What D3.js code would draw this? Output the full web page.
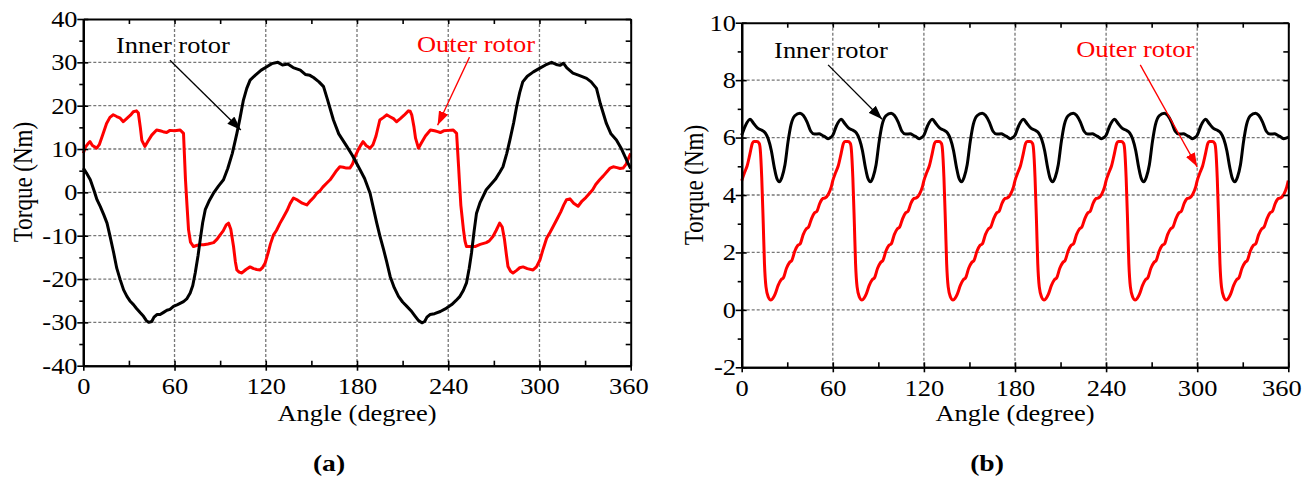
<!DOCTYPE html>
<html>
<head>
<meta charset="utf-8">
<script src="https://cdn.jsdelivr.net/npm/d3@7"></script>
<style>
  body { margin: 0; background: #fff; }
  text { font-family: "Liberation Serif", "Times New Roman", serif; }
</style>
</head>
<body>
<div id="chart"></div>
<script>

// x ticks (same for both panels)
var angleTicks = [0, 60, 120, 180, 240, 300, 360];
var angleMinor = [30, 90, 150, 210, 270, 330];

// y ticks
var torqueTicksA = [-40, -30, -20, -10, 0, 10, 20, 30, 40];
var torqueMinorA = [-35, -25, -15, -5, 5, 15, 25, 35];
var torqueTicksB = [-2, 0, 2, 4, 6, 8, 10];
var torqueMinorB = [-1, 1, 3, 5, 7, 9];

// (a) inner rotor, [angle, torque]
var innerA = [[0,5.6],[2,4.5],[4.6,2.9],[7,0.5],[9,-1.7],[11.2,-3.3],[13.5,-5.2],[15.6,-7.1],[17.5,-10],[20,-14],
  [22,-17.5],[24.3,-20.2],[26.5,-22.5],[28.7,-24],[31,-25.2],[33,-25.9],[35,-26.8],[37.5,-27.8],[39.6,-28.6],[41.5,-29.6],
  [43,-30],[45,-29.8],[46.5,-28.8],[48.4,-28.2],[50.5,-28.2],[52.8,-27.7],[55,-27.2],[57,-27],[59.3,-26.3],[62,-25.9],
  [65.9,-25.2],[68,-24.6],[70.3,-23.2],[72,-21.5],[73.6,-18.6],[75.5,-14.5],[76.9,-10.9],[78.5,-7],[80.2,-4],[83,-1.8],
  [85.6,-0.2],[89,1.5],[92.2,2.9],[95,5.5],[98,9],[101,13.6],[103,17],[105.3,21.3],[107.5,24],[109.7,25.9],
  [113,27],[117,28.2],[120.7,29],[124,29.7],[128,30],[131,29.4],[134.5,29.6],[138,28.8],[142.7,28.2],[146,27.2],
  [149,27],[151.4,26.5],[155,25.5],[158,24.4],[160.5,21.5],[164.5,16.7],[168,13.5],[173.3,10.6],[177,8.5],[182,5.2],
  [185,3.2],[188.6,-0.2],[191,-4],[193,-7.1],[195,-10],[197.5,-13.2],[199.5,-16],[201.8,-19.4],[204.5,-22],[207.3,-24],
  [210,-25.3],[212.8,-26.3],[215.5,-27.3],[218.3,-28.6],[220.5,-29.6],[222.7,-30.1],[224.5,-29.8],[226,-28.8],[228,-28.2],[231,-28],
  [234.8,-27.5],[238,-26.9],[242.3,-25.9],[245,-25],[247.7,-24],[250,-22.6],[252,-20.9],[253.8,-17.5],[255.3,-14],[257,-9],
  [258.6,-4.8],[261,-2.3],[265,0.6],[268,1.8],[271,3],[274,4.7],[276,5.9],[278.5,9],[280.5,12],[283,16],
  [285,19.8],[287,23],[289,25.5],[292,26.8],[296,27.8],[300,28.6],[304,29.4],[308,30],[311,29.5],[313.5,29.3],
  [315.7,29.8],[318,28.7],[322,27.5],[326,27],[331,26.3],[334,25.5],[337.5,24],[340,20.5],[344,15.9],[347,13.5],
  [350.6,12.1],[354,10],[358.3,6.7],[360,5.5]];

// (a) outer rotor
var outerA = [[0,9],[1.5,10.5],[3,11.2],[4.4,11.7],[6,10.8],[8.8,10.2],[10.5,11],[12.5,13],[15.3,15.9],[17.5,17.3],
  [19.7,17.9],[22,17.5],[24,17.2],[26.3,16.3],[28.5,17],[31,17.8],[32.9,18.6],[35,18.8],[36.2,18.3],[37.5,15],
  [38.5,12],[40.5,10.6],[42.5,11.8],[45,13.2],[48.2,14.4],[50.5,14.2],[52.5,14],[54.8,13.8],[57,14.3],[60,14.2],
  [63.7,14.4],[65.9,13.6],[67.2,2.9],[68.2,-3],[69.2,-8.6],[70.5,-11.5],[72.5,-12.5],[75,-12.2],[77,-12.1],[79.1,-12.1],
  [82,-11.9],[85.7,-11.6],[88,-10.8],[90,-9.8],[92,-8.9],[94,-7.5],[95.5,-7.1],[97,-8.5],[98.8,-12.5],[100,-16],
  [101,-17.9],[102.5,-18.4],[104.3,-18.6],[107,-17.8],[109.7,-17.2],[112,-17.6],[114,-17.8],[116.3,-17.9],[118,-17.3],[119.6,-16.3],
  [121.5,-14],[123,-12],[125.1,-9.8],[127,-8.8],[129.4,-7.1],[131.5,-5.8],[134,-4.2],[136,-2.6],[138.2,-1.3],[141,-1.8],
  [144,-2.5],[147,-2.9],[149.5,-1.9],[151.5,-1.2],[153.6,-0.2],[155.5,0.3],[157.5,1.2],[160,2.1],[162.3,2.9],[164.5,4],
  [166.5,5],[168.7,5.9],[171,5.8],[173,5.6],[175.3,5.6],[177,6.5],[179,8.5],[181,10],[182,10.6],[184,11.7],
  [186,10.8],[188.6,10.2],[190.5,11],[192.5,13],[195,16.7],[197.5,17.3],[199.5,17.9],[202,17.4],[204,17],[206,16.3],
  [208.5,17],[211,17.8],[213.8,18.8],[215,18.7],[216,17.9],[217.5,15],[218.5,12.5],[220.4,10.2],[222.5,11.5],[225,13],
  [228.3,14.4],[231,14.2],[233,14],[234.8,13.8],[237,14.2],[240,14.3],[243.3,14.4],[245.5,13.6],[246.8,6],[247.3,2.9],
  [248.3,-3],[250,-8.6],[251,-11.2],[252,-12.5],[255,-12.5],[257.6,-12.5],[261,-12],[265,-11.6],[267,-11.2],[269.4,-10.2],
  [271.5,-8.8],[273.8,-7.1],[275.5,-8],[277,-10.9],[278.3,-14.5],[279.3,-17.1],[281,-18.2],[282.6,-18.6],[285,-18],[287,-17.4],
  [289.2,-17.2],[292,-17.6],[295.8,-17.9],[298,-17.2],[300.3,-15.6],[302.5,-13],[304.7,-10.6],[307,-9.2],[309,-7.9],[311.5,-6.2],
  [314,-4.5],[316,-2.9],[317.8,-1.7],[320,-1.5],[322.5,-2.5],[325.4,-3.2],[328,-2],[330.5,-1.2],[333,-0.2],[335,0.6],
  [337,1.8],[339.6,2.9],[342,3.8],[344.5,4.8],[346.5,5.6],[348.5,5.9],[351,5.7],[353,5.5],[355,5.6],[357,6.5],
  [358.5,7.8],[360,9]];

// (b) inner rotor
var innerB = [
  [0,6.08],[2.5,6.42],[5.5,6.64],[8,6.48],[10.5,6.33],[13,6.26],[15.5,6.16],[17.5,5.95],[19.5,5.55],[21.5,4.95],[23,4.6],[24.8,4.46],[26.5,4.62],[28.5,5.05],[30.5,5.85],[32.5,6.45],[35,6.76],[38.4,6.85],[40.5,6.78],[43,6.55],[45.5,6.22],[48,6.12],[51,6.13],[53,6.08],[55,6.02],[57,5.96],[58.5,6.0],
  [60,6.08],[62.5,6.42],[65.5,6.64],[68,6.48],[70.5,6.33],[73,6.26],[75.5,6.16],[77.5,5.95],[79.5,5.55],[81.5,4.95],[83,4.6],[84.8,4.46],[86.5,4.62],[88.5,5.05],[90.5,5.85],[92.5,6.45],[95,6.76],[98.4,6.85],[100.5,6.78],[103,6.55],[105.5,6.22],[108,6.12],[111,6.13],[113,6.08],[115,6.02],[117,5.96],[118.5,6.0],
  [120,6.08],[122.5,6.42],[125.5,6.64],[128,6.48],[130.5,6.33],[133,6.26],[135.5,6.16],[137.5,5.95],[139.5,5.55],[141.5,4.95],[143,4.6],[144.8,4.46],[146.5,4.62],[148.5,5.05],[150.5,5.85],[152.5,6.45],[155,6.76],[158.4,6.85],[160.5,6.78],[163,6.55],[165.5,6.22],[168,6.12],[171,6.13],[173,6.08],[175,6.02],[177,5.96],[178.5,6.0],
  [180,6.08],[182.5,6.42],[185.5,6.64],[188,6.48],[190.5,6.33],[193,6.26],[195.5,6.16],[197.5,5.95],[199.5,5.55],[201.5,4.95],[203,4.6],[204.8,4.46],[206.5,4.62],[208.5,5.05],[210.5,5.85],[212.5,6.45],[215,6.76],[218.4,6.85],[220.5,6.78],[223,6.55],[225.5,6.22],[228,6.12],[231,6.13],[233,6.08],[235,6.02],[237,5.96],[238.5,6.0],
  [240,6.08],[242.5,6.42],[245.5,6.64],[248,6.48],[250.5,6.33],[253,6.26],[255.5,6.16],[257.5,5.95],[259.5,5.55],[261.5,4.95],[263,4.6],[264.8,4.46],[266.5,4.62],[268.5,5.05],[270.5,5.85],[272.5,6.45],[275,6.76],[278.4,6.85],[280.5,6.78],[283,6.55],[285.5,6.22],[288,6.12],[291,6.13],[293,6.08],[295,6.02],[297,5.96],[298.5,6.0],
  [300,6.08],[302.5,6.42],[305.5,6.64],[308,6.48],[310.5,6.33],[313,6.26],[315.5,6.16],[317.5,5.95],[319.5,5.55],[321.5,4.95],[323,4.6],[324.8,4.46],[326.5,4.62],[328.5,5.05],[330.5,5.85],[332.5,6.45],[335,6.76],[338.4,6.85],[340.5,6.78],[343,6.55],[345.5,6.22],[348,6.12],[351,6.13],[353,6.08],[355,6.02],[357,5.96],[358.5,5.98],[360,6.02]];

// (b) outer rotor
var outerB = [
  [0,4.5],[2,4.8],[3.5,5.0],[5.5,5.45],[7,5.8],[8,5.86],[10,5.86],[11.5,5.8],[12.2,5.6],[13.2,4.6],[14.2,3.0],[15,1.6],[16,0.8],[17.5,0.45],[19.2,0.34],[20.5,0.4],[22,0.55],[24,0.85],[26,1.05],[27.5,1.12],[29.5,1.45],[31.5,1.65],[33,1.72],[35,2.05],[37,2.25],[38.5,2.3],[40.5,2.62],[42.5,2.82],[44,2.88],[46,3.18],[48,3.38],[49.5,3.43],[51.5,3.72],[53.5,3.88],[55,3.9],[57,4.02],[59,4.28],
  [60,4.5],[62,4.8],[63.5,5.0],[65.5,5.45],[67,5.8],[68,5.86],[70,5.86],[71.5,5.8],[72.2,5.6],[73.2,4.6],[74.2,3.0],[75,1.6],[76,0.8],[77.5,0.45],[79.2,0.34],[80.5,0.4],[82,0.55],[84,0.85],[86,1.05],[87.5,1.12],[89.5,1.45],[91.5,1.65],[93,1.72],[95,2.05],[97,2.25],[98.5,2.3],[100.5,2.62],[102.5,2.82],[104,2.88],[106,3.18],[108,3.38],[109.5,3.43],[111.5,3.72],[113.5,3.88],[115,3.9],[117,4.02],[119,4.28],
  [120,4.5],[122,4.8],[123.5,5.0],[125.5,5.45],[127,5.8],[128,5.86],[130,5.86],[131.5,5.8],[132.2,5.6],[133.2,4.6],[134.2,3.0],[135,1.6],[136,0.8],[137.5,0.45],[139.2,0.34],[140.5,0.4],[142,0.55],[144,0.85],[146,1.05],[147.5,1.12],[149.5,1.45],[151.5,1.65],[153,1.72],[155,2.05],[157,2.25],[158.5,2.3],[160.5,2.62],[162.5,2.82],[164,2.88],[166,3.18],[168,3.38],[169.5,3.43],[171.5,3.72],[173.5,3.88],[175,3.9],[177,4.02],[179,4.28],
  [180,4.5],[182,4.8],[183.5,5.0],[185.5,5.45],[187,5.8],[188,5.86],[190,5.86],[191.5,5.8],[192.2,5.6],[193.2,4.6],[194.2,3.0],[195,1.6],[196,0.8],[197.5,0.45],[199.2,0.34],[200.5,0.4],[202,0.55],[204,0.85],[206,1.05],[207.5,1.12],[209.5,1.45],[211.5,1.65],[213,1.72],[215,2.05],[217,2.25],[218.5,2.3],[220.5,2.62],[222.5,2.82],[224,2.88],[226,3.18],[228,3.38],[229.5,3.43],[231.5,3.72],[233.5,3.88],[235,3.9],[237,4.02],[239,4.28],
  [240,4.5],[242,4.8],[243.5,5.0],[245.5,5.45],[247,5.8],[248,5.86],[250,5.86],[251.5,5.8],[252.2,5.6],[253.2,4.6],[254.2,3.0],[255,1.6],[256,0.8],[257.5,0.45],[259.2,0.34],[260.5,0.4],[262,0.55],[264,0.85],[266,1.05],[267.5,1.12],[269.5,1.45],[271.5,1.65],[273,1.72],[275,2.05],[277,2.25],[278.5,2.3],[280.5,2.62],[282.5,2.82],[284,2.88],[286,3.18],[288,3.38],[289.5,3.43],[291.5,3.72],[293.5,3.88],[295,3.9],[297,4.02],[299,4.28],
  [300,4.5],[302,4.8],[303.5,5.0],[305.5,5.45],[307,5.8],[308,5.86],[310,5.86],[311.5,5.8],[312.2,5.6],[313.2,4.6],[314.2,3.0],[315,1.6],[316,0.8],[317.5,0.45],[319.2,0.34],[320.5,0.4],[322,0.55],[324,0.85],[326,1.05],[327.5,1.12],[329.5,1.45],[331.5,1.65],[333,1.72],[335,2.05],[337,2.25],[338.5,2.3],[340.5,2.62],[342.5,2.82],[344,2.88],[346,3.18],[348,3.38],[349.5,3.43],[351.5,3.72],[353.5,3.88],[355,3.9],[357,4.02],[359,4.28],[360,4.5]];

// annotation labels + arrows, in data units
var notesA = [
  { label: "Inner rotor", color: "black", tx: 58.9, ty: 32.2, x1: 57, y1: 30.5, x2: 103.6, y2: 14.4 },
  { label: "Outer rotor", color: "red", tx: 258.3, ty: 32.4, x1: 254, y1: 31.2, x2: 233, y2: 15.5 }
];
var notesB = [
  { label: "Inner rotor", color: "black", tx: 58.8, ty: 8.76, x1: 56.9, y1: 8.53, x2: 92.5, y2: 6.64 },
  { label: "Outer rotor", color: "red", tx: 259.2, ty: 8.8, x1: 262.5, y1: 8.53, x2: 300, y2: 4.98 }
];

var SX = 1.15; // text in the source is a bit wide
var fs = 23;
var serif = "'Liberation Serif', 'Times New Roman', Times, serif";

var svg = d3.select("#chart").append("svg")
    .attr("width", 1303)
    .attr("height", 478)
    .attr("font-family", serif);

var defs = svg.append("defs");
["black", "red"].forEach(function(c) {
    defs.append("marker")
        .attr("id", "arrow-" + c)
        .attr("viewBox", "0 0 14 10")
        .attr("refX", 14)
        .attr("refY", 5)
        .attr("markerWidth", 14)
        .attr("markerHeight", 10)
        .attr("markerUnits", "userSpaceOnUse")
        .attr("orient", "auto")
        .append("path")
        .attr("d", "M0,0 L14,5 L0,10 Z")
        .attr("fill", c === "red" ? "#ff0000" : "#000");
});

function styleAxis(sel) {
    sel.attr("font-family", serif).attr("font-size", null);
    sel.select(".domain").attr("stroke", "#000").attr("stroke-width", 2);
    sel.selectAll(".tick line").attr("stroke", "#000").attr("stroke-width", 1.6);
}

// plain hyphen like the source, not the unicode minus
var plain = function(d) { return String(d); };

function panel(cfg) {
    var x = d3.scaleLinear().domain([0, 360]).range([cfg.left, cfg.right]);
    var y = d3.scaleLinear().domain(cfg.yDomain).range([cfg.bottom, cfg.top]);
    var g = svg.append("g");

    // dashed grid
    g.append("g").selectAll("line")
        .data(angleTicks.slice(1, -1))
        .join("line")
        .attr("x1", function(d) { return x(d); })
        .attr("x2", function(d) { return x(d); })
        .attr("y1", cfg.top)
        .attr("y2", cfg.bottom)
        .attr("stroke", "#777")
        .attr("stroke-width", 1.3)
        .attr("stroke-dasharray", "3,2");
    g.append("g").selectAll("line")
        .data(cfg.yTicks.slice(1, -1))
        .join("line")
        .attr("x1", cfg.left)
        .attr("x2", cfg.right)
        .attr("y1", function(d) { return y(d); })
        .attr("y2", function(d) { return y(d); })
        .attr("stroke", "#777")
        .attr("stroke-width", 1.3)
        .attr("stroke-dasharray", "3,2");

    var line = d3.line()
        .x(function(d) { return x(d[0]); })
        .y(function(d) { return y(d[1]); })
        .curve(cfg.curve);

    g.append("path").datum(cfg.outer)
        .attr("d", line)
        .attr("fill", "none")
        .attr("stroke", "#ff0000")
        .attr("stroke-width", 3)
        .attr("stroke-linejoin", "round");
    g.append("path").datum(cfg.inner)
        .attr("d", line)
        .attr("fill", "none")
        .attr("stroke", "#000")
        .attr("stroke-width", 3)
        .attr("stroke-linejoin", "round");

    // bottom axis: labels + ticks that cross the line, minor inside
    var bx = g.append("g").attr("transform", "translate(0," + cfg.bottom + ")")
        .call(d3.axisBottom(x).tickValues(angleTicks).tickSize(5).tickSizeOuter(0).tickFormat(plain));
    styleAxis(bx);
    bx.selectAll("text")
        .attr("y", 12)
        .attr("x", function(d) { return d === 360 ? cfg.lastShift : 0; })
        .attr("font-size", fs)
        .attr("fill", "#000")
        .attr("transform", "scale(" + SX + ",1)");
    var bx2 = g.append("g").attr("transform", "translate(0," + cfg.bottom + ")")
        .call(d3.axisBottom(x).tickValues(angleTicks.concat(angleMinor)).tickSize(-5).tickSizeOuter(0).tickFormat(""));
    styleAxis(bx2);

    // top border, ticks inside
    var tx = g.append("g").attr("transform", "translate(0," + cfg.top + ")")
        .call(d3.axisTop(x).tickValues(angleTicks.concat(angleMinor)).tickSize(-5).tickSizeOuter(0).tickFormat(""));
    styleAxis(tx);

    // left axis
    var ly = g.append("g").attr("transform", "translate(" + cfg.left + ",0)")
        .call(d3.axisLeft(y).tickValues(cfg.yTicks).tickSize(6).tickSizeOuter(0).tickFormat(plain));
    styleAxis(ly);
    ly.selectAll("text")
        .attr("x", -5)
        .attr("font-size", fs)
        .attr("fill", "#000")
        .attr("transform", "scale(" + SX + ",1)");
    var ly2 = g.append("g").attr("transform", "translate(" + cfg.left + ",0)")
        .call(d3.axisLeft(y).tickValues(cfg.yMinor).tickSize(4).tickSizeOuter(0).tickFormat(""));
    styleAxis(ly2);
    var ly3 = g.append("g").attr("transform", "translate(" + cfg.left + ",0)")
        .call(d3.axisLeft(y).tickValues(cfg.yTicks).tickSize(-5).tickSizeOuter(0).tickFormat(""));
    styleAxis(ly3);

    // right border, ticks inside
    var ry = g.append("g").attr("transform", "translate(" + cfg.right + ",0)")
        .call(d3.axisRight(y).tickValues(cfg.yTicks.concat(cfg.yMinor)).tickSize(-5).tickSizeOuter(0).tickFormat(""));
    styleAxis(ry);

    // titles
    g.append("text")
        .attr("transform", "translate(" + cfg.yTitleX + "," + cfg.yTitleY + ") scale(" + SX + ",1) rotate(-90)")
        .attr("text-anchor", "middle")
        .attr("dy", "0.32em")
        .attr("font-size", fs)
        .text("Torque (Nm)");

    var cx = (cfg.left + cfg.right) / 2;
    g.append("text")
        .attr("transform", "translate(" + cx + ",421) scale(" + SX + ",1)")
        .attr("text-anchor", "middle")
        .attr("font-size", fs)
        .text("Angle (degree)");

    g.append("text")
        .attr("transform", "translate(" + (cx - 28) + ",471) scale(" + SX + ",1)")
        .attr("text-anchor", "middle")
        .attr("font-size", 24)
        .attr("font-weight", "bold")
        .text(cfg.tag);

    // annotations
    cfg.notes.forEach(function(n) {
        var col = n.color === "red" ? "#ff0000" : "#000";
        g.append("line")
            .attr("x1", x(n.x1)).attr("y1", y(n.y1))
            .attr("x2", x(n.x2)).attr("y2", y(n.y2))
            .attr("stroke", col)
            .attr("stroke-width", 1.3)
            .attr("marker-end", "url(#arrow-" + n.color + ")");
        g.append("text")
            .attr("transform", "translate(" + x(n.tx) + "," + y(n.ty) + ") scale(" + SX + ",1)")
            .attr("text-anchor", "middle")
            .attr("font-size", fs)
            .attr("fill", col)
            .text(n.label);
    });
}

panel({
    left: 83.3, right: 630.7, top: 19, bottom: 365.7,
    yDomain: [-40, 40], yTicks: torqueTicksA, yMinor: torqueMinorA,
    inner: innerA, outer: outerA, notes: notesA, lastShift: -2,
    curve: d3.curveLinear, yTitleX: 24, yTitleY: 182, tag: "(a)"
});

panel({
    left: 741.7, right: 1288.3, top: 22.7, bottom: 367.3,
    yDomain: [-2, 10], yTicks: torqueTicksB, yMinor: torqueMinorB,
    inner: innerB, outer: outerB, notes: notesB, lastShift: -6,
    curve: d3.curveMonotoneX, yTitleX: 695, yTitleY: 185, tag: "(b)"
});

</script>
</body>
</html>
